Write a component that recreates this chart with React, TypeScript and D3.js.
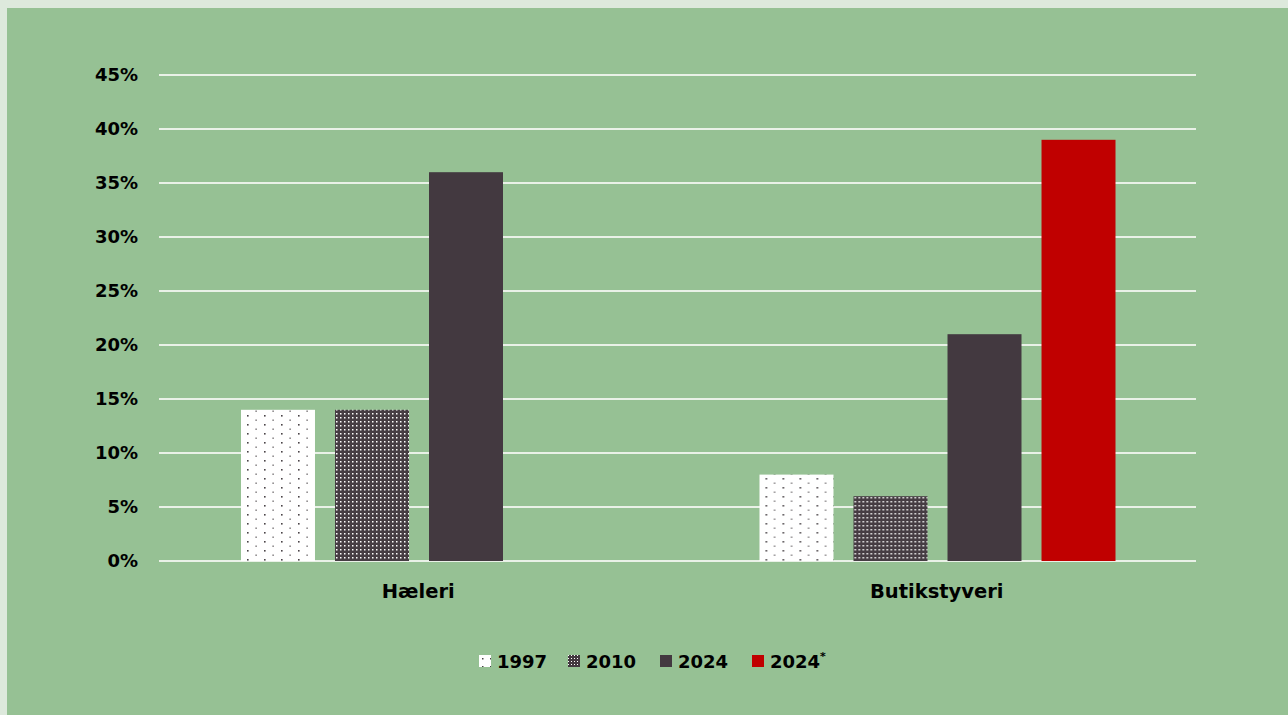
import React, { useEffect } from "react";
import * as d3 from "d3";

const categories = ["Hæleri", "Butikstyveri"];
const seriesNames = ["1997", "2010", "2024", "2024*"];
const values1997 = [14, 8];
const values2010 = [14, 6];
const values2024 = [36, 21];
const values2024star = [null, 39];
const yTicks = [0, 5, 10, 15, 20, 25, 30, 35, 40, 45];

const W = 1288;
const H = 715;
const FONT = "'DejaVu Sans', Verdana, sans-serif";

export default function App() {
  useEffect(() => {
    document.body.style.margin = "0";
    document.body.style.background = "#dde9dc";
  }, []);

  const margin = { left: 159, right: 1196, top: 75, bottom: 561 };
  const y = d3.scaleLinear().domain([0, 45]).range([margin.bottom, margin.top]);
  const x0 = d3.scaleBand<string>().domain(categories).range([margin.left, margin.right]).padding(0);
  const x1 = d3
    .scaleBand<string>()
    .domain(seriesNames)
    .range([82, 82 + 356])
    .paddingInner(0.213)
    .paddingOuter(0);

  const seriesData: { name: string; vals: (number | null)[]; fill: string }[] = [
    { name: "1997", vals: values1997, fill: "url(#pat1997)" },
    { name: "2010", vals: values2010, fill: "url(#pat2010)" },
    { name: "2024", vals: values2024, fill: "#433940" },
    { name: "2024*", vals: values2024star, fill: "#c00000" },
  ];

  const legendItems = [
    { label: "1997", fill: "url(#patLeg1997)", x: 479 },
    { label: "2010", fill: "url(#patLeg2010)", x: 568 },
    { label: "2024", fill: "#433940", x: 660 },
    { label: "2024", fill: "#c00000", x: 752, star: true },
  ];

  return (
    <svg width={W} height={H} style={{ display: "block" }} fontFamily={FONT}>
      <defs>
        <pattern id="pat1997" patternUnits="userSpaceOnUse" width={17} height={9}>
          <rect width={17} height={9} fill="#ffffff" />
          <rect x={3} y={1} width={1.6} height={1.6} fill="#4a4448" />
          <rect x={11.5} y={5.5} width={1.2} height={1.4} fill="#5a5458" />
        </pattern>
        <pattern id="pat2010" patternUnits="userSpaceOnUse" width={4} height={4}>
          <rect width={4} height={4} fill="#463d43" />
          <rect x={1} y={1} width={1.5} height={1.5} fill="#ffffff" />
        </pattern>
        <pattern id="patLeg1997" patternUnits="userSpaceOnUse" width={8} height={8}>
          <rect width={8} height={8} fill="#ffffff" />
          <rect x={2} y={2} width={1.5} height={1.5} fill="#4a4448" />
        </pattern>
        <pattern id="patLeg2010" patternUnits="userSpaceOnUse" width={3} height={3}>
          <rect width={3} height={3} fill="#433940" />
          <rect x={1} y={1} width={1} height={1} fill="#ffffff" />
        </pattern>
      </defs>
      <rect x={0} y={0} width={W} height={H} fill="#dde9dc" />
      <rect x={7} y={8} width={W - 7} height={H - 8} fill="#96c194" />

      {yTicks.map((t) => (
        <g key={t}>
          <line
            x1={margin.left}
            x2={margin.right}
            y1={y(t)}
            y2={y(t)}
            stroke="#e9f1e7"
            strokeWidth={2}
          />
          <text
            x={138}
            y={y(t)}
            dy="0.35em"
            textAnchor="end"
            fontSize={18}
            fontWeight={700}
            fill="#000"
          >
            {t}%
          </text>
        </g>
      ))}

      {categories.map((c, ci) => (
        <g key={c} transform={`translate(${x0(c)},0)`}>
          {seriesData.map((s) => {
            const v = s.vals[ci];
            if (v == null) return null;
            return (
              <rect
                key={s.name}
                x={x1(s.name)}
                y={y(v)}
                width={x1.bandwidth()}
                height={y(0) - y(v)}
                fill={s.fill}
              />
            );
          })}
          <text
            x={x0.bandwidth() / 2}
            y={591}
            dy="0.35em"
            textAnchor="middle"
            fontSize={19.5}
            fontWeight={700}
            fill="#000"
          >
            {c}
          </text>
        </g>
      ))}

      {legendItems.map((l, i) => (
        <g key={i}>
          <rect x={l.x} y={655} width={12} height={12} fill={l.fill} />
          <text x={l.x + 18} y={662} dy="0.35em" fontSize={18} fontWeight={700} fill="#000">
            {l.label}
            {l.star ? (
              <tspan dy="-8" fontSize={11}>
                *
              </tspan>
            ) : null}
          </text>
        </g>
      ))}
    </svg>
  );
}
